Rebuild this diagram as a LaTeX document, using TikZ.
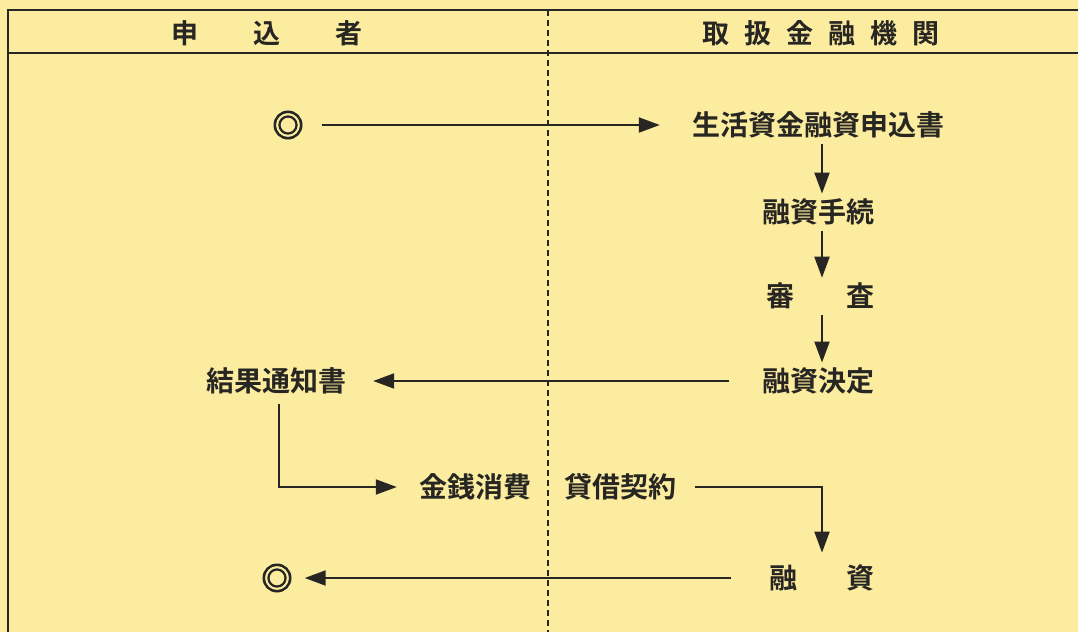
\documentclass[tikz,border=0pt]{standalone}
\usepackage{fontspec}
\newfontfamily\jp[UprightFont={* Bold}]{Noto Sans CJK JP}
\newfontfamily\marufont[UprightFont={* Bold},FakeBold=3.5]{Noto Sans CJK JP}
\usetikzlibrary{arrows.meta}
\definecolor{bgyellow}{RGB}{251,236,160}
\definecolor{ink}{RGB}{40,38,34}
\tikzset{
  lbl/.style={inner sep=0pt, text=ink, font=\jp\fontsize{28}{28}\selectfont},
  mark2/.style={inner sep=0pt, text=ink, font=\marufont\fontsize{31}{31}\selectfont},
  hdr/.style={inner sep=0pt, text=ink, font=\jp\fontsize{27}{27}\selectfont},
  flow/.style={draw=ink, line width=2pt, -{Triangle[length=21pt,width=15pt]}},
  rule/.style={draw=ink, line width=1.8pt},
  divider/.style={draw=ink, line width=1.4pt, dash pattern=on 6pt off 4pt}
}
\begin{document}
\begin{tikzpicture}[x=1pt,y=-1pt]
\useasboundingbox (0,0) rectangle (1078,632);
\fill[bgyellow] (0,0) rectangle (1078,632);
% frame
\draw[rule] (8,632) -- (8,10) -- (1078,10);
\draw[rule] (8,53) -- (1078,53);
\draw[divider] (548,10) -- (548,632);
% headers
\node[hdr] (h1) at (267,33) {申\hspace{55pt}込\hspace{55pt}者};
\node[hdr] (h2) at (821,33) {取\hspace{15pt}扱\hspace{15pt}金\hspace{15pt}融\hspace{15pt}機\hspace{15pt}関};
% nodes
\node[mark2] (maru1) at (288,125) {◎};
\node[lbl] (moushikomi) at (818,125) {生活資金融資申込書};
\node[lbl] (tetsuzuki) at (818,212) {融資手続};
\node[lbl] (shinsa) at (820,296) {審\hspace{52pt}査};
\node[lbl] (kettei) at (818,381) {融資決定};
\node[lbl] (kekka) at (276,381) {結果通知書};
\node[lbl] (kinsen) at (475,487) {金銭消費};
\node[lbl] (taishaku) at (620,487) {貸借契約};
\node[lbl] (yushi) at (822,578) {融\hspace{49pt}資};
\node[mark2] (maru2) at (277,578) {◎};
\coordinate (c1) at (822,487);
\coordinate (c2) at (279,487);
% connectors
\draw[flow, shorten <=18pt, shorten >=32pt] (maru1.east) -- (moushikomi.west);
\draw[flow, shorten <=6pt, shorten >=5pt] (moushikomi.south -| 822,0) -- (tetsuzuki.north -| 822,0);
\draw[flow, shorten <=6pt, shorten >=5pt] (tetsuzuki.south -| 822,0) -- (shinsa.north -| 822,0);
\draw[flow, shorten <=6pt, shorten >=5pt] (shinsa.south -| 822,0) -- (kettei.north -| 822,0);
\draw[flow, shorten <=33pt, shorten >=27pt] (kettei.west) -- (kekka.east);
\draw[flow, shorten <=10pt, shorten >=22pt] (kekka.south -| c2) -- (c2) -- (kinsen.west);
\draw[flow, shorten <=19pt, shorten >=12pt] (taishaku.east) -- (c1) -- (yushi.north -| c1);
\draw[flow, shorten <=38pt, shorten >=12pt] (yushi.west) -- (maru2.east);
\end{tikzpicture}
\end{document}
